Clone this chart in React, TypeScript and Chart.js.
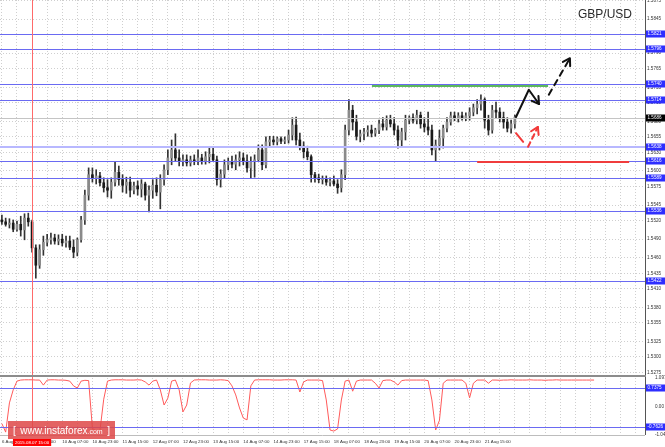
import React, { useEffect, useRef } from "react";
import { Chart, registerables } from "chart.js";

Chart.register(...registerables);

// ---------- data ----------
const TIME_LABELS = [
  "6 Aug 2015", "7 Aug 15:00", "10 Aug 07:00", "10 Aug 23:00", "11 Aug 15:00",
  "12 Aug 07:00", "12 Aug 23:00", "13 Aug 15:00", "14 Aug 07:00", "14 Aug 23:00",
  "17 Aug 15:00", "18 Aug 07:00", "18 Aug 23:00", "19 Aug 15:00", "20 Aug 07:00",
  "20 Aug 23:00", "21 Aug 15:00",
];
const BARS_PER_LABEL = 8;
const SLOT_COUNT = 171;

const OPEN = [
  1.5521, 1.5518, 1.5514, 1.5516, 1.5506, 1.5514, 1.5505, 1.5524, 1.5518, 1.5476,
  1.5448, 1.5473, 1.5485, 1.5489, 1.5492, 1.5487, 1.5490, 1.5484, 1.5487, 1.5477,
  1.5469, 1.5489, 1.5521, 1.5561, 1.5594, 1.5589, 1.5592, 1.5581, 1.5573, 1.5569,
  1.5582, 1.5598, 1.5586, 1.5577, 1.5582, 1.5569, 1.5576, 1.5571, 1.5579, 1.5561,
  1.5569, 1.5577, 1.5566, 1.5586, 1.5602, 1.5621, 1.5634, 1.5621, 1.5615, 1.5618,
  1.5613, 1.5618, 1.5615, 1.5621, 1.5616, 1.5623, 1.5627, 1.5618, 1.5586, 1.5595,
  1.5610, 1.5615, 1.5611, 1.5618, 1.5621, 1.5616, 1.5605, 1.5615, 1.5618, 1.5634,
  1.5610, 1.5647, 1.5650, 1.5647, 1.5652, 1.5648, 1.5650, 1.5658, 1.5674, 1.5650,
  1.5640, 1.5631, 1.5623, 1.5594, 1.5589, 1.5586, 1.5587, 1.5582, 1.5584, 1.5579,
  1.5573, 1.5594, 1.5666, 1.5698, 1.5679, 1.5656, 1.5660, 1.5663, 1.5666, 1.5661,
  1.5666, 1.5676, 1.5671, 1.5682, 1.5676, 1.5666, 1.5650, 1.5663, 1.5682, 1.5686,
  1.5682, 1.5690, 1.5676, 1.5671, 1.5666, 1.5634, 1.5642, 1.5653, 1.5669, 1.5679,
  1.5689, 1.5686, 1.5689, 1.5686, 1.5689, 1.5695, 1.5702, 1.5708, 1.5715, 1.5682,
  1.5666, 1.5698, 1.5695, 1.5686, 1.5679, 1.5669, 1.5676,
];
const HIGH = [
  1.5529, 1.5524, 1.5523, 1.5521, 1.5519, 1.5527, 1.5531, 1.5532, 1.5521, 1.5481,
  1.5481, 1.5495, 1.5498, 1.5500, 1.5498, 1.5497, 1.5498, 1.5495, 1.5495, 1.5489,
  1.5492, 1.5527, 1.5569, 1.5605, 1.5605, 1.5602, 1.5598, 1.5589, 1.5586, 1.5589,
  1.5615, 1.5608, 1.5594, 1.5590, 1.5590, 1.5582, 1.5584, 1.5586, 1.5582, 1.5576,
  1.5586, 1.5589, 1.5594, 1.5610, 1.5634, 1.5650, 1.5660, 1.5634, 1.5626, 1.5626,
  1.5624, 1.5626, 1.5634, 1.5627, 1.5631, 1.5637, 1.5637, 1.5624, 1.5602, 1.5618,
  1.5621, 1.5624, 1.5626, 1.5631, 1.5629, 1.5626, 1.5623, 1.5626, 1.5642, 1.5642,
  1.5655, 1.5656, 1.5656, 1.5655, 1.5655, 1.5655, 1.5666, 1.5686, 1.5687, 1.5661,
  1.5647, 1.5640, 1.5626, 1.5598, 1.5595, 1.5592, 1.5592, 1.5589, 1.5592, 1.5586,
  1.5602, 1.5674, 1.5715, 1.5706, 1.5690, 1.5666, 1.5669, 1.5673, 1.5674, 1.5669,
  1.5682, 1.5686, 1.5689, 1.5690, 1.5686, 1.5673, 1.5669, 1.5690, 1.5689, 1.5692,
  1.5698, 1.5695, 1.5686, 1.5695, 1.5674, 1.5650, 1.5666, 1.5674, 1.5686, 1.5695,
  1.5695, 1.5694, 1.5695, 1.5694, 1.5702, 1.5708, 1.5715, 1.5723, 1.5718, 1.5690,
  1.5706, 1.5711, 1.5702, 1.5695, 1.5686, 1.5682, 1.5690,
];
const LOW = [
  1.5514, 1.5511, 1.5508, 1.5502, 1.5503, 1.5495, 1.5489, 1.5511, 1.5469, 1.5427,
  1.5443, 1.5464, 1.5479, 1.5482, 1.5482, 1.5481, 1.5479, 1.5477, 1.5473, 1.5460,
  1.5463, 1.5485, 1.5514, 1.5553, 1.5582, 1.5579, 1.5576, 1.5566, 1.5558, 1.5556,
  1.5576, 1.5577, 1.5566, 1.5564, 1.5558, 1.5563, 1.5561, 1.5558, 1.5553, 1.5534,
  1.5556, 1.5560, 1.5539, 1.5577, 1.5594, 1.5610, 1.5615, 1.5608, 1.5608, 1.5608,
  1.5608, 1.5610, 1.5610, 1.5611, 1.5611, 1.5613, 1.5615, 1.5577, 1.5574, 1.5589,
  1.5602, 1.5605, 1.5602, 1.5608, 1.5610, 1.5598, 1.5589, 1.5590, 1.5615, 1.5602,
  1.5605, 1.5639, 1.5642, 1.5642, 1.5644, 1.5644, 1.5645, 1.5650, 1.5642, 1.5634,
  1.5621, 1.5618, 1.5582, 1.5582, 1.5581, 1.5579, 1.5577, 1.5576, 1.5576, 1.5564,
  1.5566, 1.5586, 1.5658, 1.5666, 1.5650, 1.5647, 1.5650, 1.5656, 1.5655, 1.5656,
  1.5660, 1.5666, 1.5666, 1.5671, 1.5658, 1.5637, 1.5639, 1.5650, 1.5676, 1.5677,
  1.5676, 1.5669, 1.5663, 1.5658, 1.5626, 1.5615, 1.5634, 1.5637, 1.5663, 1.5674,
  1.5681, 1.5679, 1.5682, 1.5681, 1.5682, 1.5689, 1.5692, 1.5698, 1.5669, 1.5658,
  1.5661, 1.5686, 1.5679, 1.5669, 1.5663, 1.5661, 1.5669,
];
const CLOSE = [
  1.5518, 1.5514, 1.5516, 1.5506, 1.5514, 1.5505, 1.5524, 1.5518, 1.5476, 1.5448,
  1.5473, 1.5485, 1.5489, 1.5492, 1.5487, 1.5490, 1.5484, 1.5487, 1.5477, 1.5469,
  1.5489, 1.5521, 1.5561, 1.5594, 1.5589, 1.5592, 1.5581, 1.5573, 1.5569, 1.5582,
  1.5598, 1.5586, 1.5577, 1.5582, 1.5569, 1.5576, 1.5571, 1.5579, 1.5561, 1.5569,
  1.5577, 1.5566, 1.5586, 1.5602, 1.5621, 1.5634, 1.5621, 1.5615, 1.5618, 1.5613,
  1.5618, 1.5615, 1.5621, 1.5616, 1.5623, 1.5627, 1.5618, 1.5586, 1.5595, 1.5610,
  1.5615, 1.5611, 1.5618, 1.5621, 1.5616, 1.5605, 1.5615, 1.5618, 1.5634, 1.5610,
  1.5647, 1.5650, 1.5647, 1.5652, 1.5648, 1.5650, 1.5658, 1.5674, 1.5650, 1.5640,
  1.5631, 1.5623, 1.5594, 1.5589, 1.5586, 1.5587, 1.5582, 1.5584, 1.5579, 1.5573,
  1.5594, 1.5666, 1.5698, 1.5679, 1.5656, 1.5660, 1.5663, 1.5666, 1.5661, 1.5666,
  1.5676, 1.5671, 1.5682, 1.5676, 1.5666, 1.5650, 1.5663, 1.5682, 1.5686, 1.5682,
  1.5690, 1.5676, 1.5671, 1.5666, 1.5634, 1.5642, 1.5653, 1.5669, 1.5679, 1.5689,
  1.5686, 1.5689, 1.5686, 1.5689, 1.5695, 1.5702, 1.5708, 1.5715, 1.5682, 1.5666,
  1.5698, 1.5695, 1.5686, 1.5679, 1.5669, 1.5676, 1.5687,
];

const INDICATOR = [
  -0.62, -0.94, 0.16, 0.65, 0.98, 1.02, 1.03, 1.03, 1.03, 1.02,
  1.02, 0.83, 1.02, 1.03, 1.03, 1.02, 1.02, 1.01, 0.98, 0.80,
  0.72, 0.98, 1.01, 1.0, -0.80, -0.90, -0.88, 0.30, 0.98, 1.02,
  1.03, 1.03, 1.03, 1.02, 1.02, 1.02, 1.03, 1.02, 0.95, 0.83,
  0.98, 1.02, 0.65, 0.08, 0.34, 0.98, 1.02, 0.65, -0.18, 0.08,
  0.91, 1.02, 1.03, 1.03, 1.03, 1.02, 1.02, 1.02, 1.03, 1.02,
  1.00, 0.80, 0.46, -0.03, -0.41, -0.48, 0.80, 1.02, 1.03, 1.03,
  1.03, 1.03, 1.02, 1.02, 1.02, 1.03, 1.03, 1.03, 1.02, 0.57,
  0.95, 1.02, 1.02, 1.02, 1.02, 1.00, 0.27, -0.86, -0.90, -0.82,
  0.27, 0.98, 1.02, 0.60, 0.98, 1.02, 1.02, 1.02, 1.02, 0.90,
  0.72, 1.00, 1.02, 1.02, 0.95, 0.83, 1.00, 1.02, 1.02, 1.02,
  1.02, 1.02, 1.02, 1.00, 0.27, -0.86, -0.50, 0.90, 1.02, 1.02,
  1.02, 1.02, 1.02, 0.90, 0.35, 0.90, 1.02, 1.02, 1.02, 0.90,
  1.02, 1.02, 1.01, 1.02, 1.02, 1.03, 1.02, 1.02, 1.02, 1.02,
  1.03, 1.02, 1.02, 1.02, 1.01, 1.02, 1.02, 1.03, 1.02, 1.02,
  1.02, 1.02, 1.02, 1.02, 1.02, 1.02, 1.02, 1.02,
];

const PRICE_TICKS = [
  1.5875, 1.5845, 1.5820, 1.5790, 1.5765, 1.5735, 1.5710, 1.5680, 1.5655, 1.5630,
  1.5600, 1.5575, 1.5545, 1.5520, 1.5490, 1.5460, 1.5435, 1.5410, 1.5380, 1.5355,
  1.5325, 1.5300, 1.5275,
];
const PRICE_MAX = 1.58758;
const PRICE_MIN = 1.52677;
const LEVELS = [1.5821, 1.5796, 1.5740, 1.5714, 1.5616, 1.5589, 1.5536, 1.5422];
const SOFT_LEVEL = 1.5638;
const LAST_PRICE = 1.5686;
const GREEN_SEGMENT = [[98.1, 1.5739], [144.8, 1.5739]];
const RED_SEGMENT = [[126.0, 1.5616], [166.3, 1.5616]];
const BLACK_SOLID_ARROW = [[136.3, 1.5687], [139.7, 1.5731], [142.4, 1.5708]];
const BLACK_DASHED_ARROW = [[145.0, 1.5723], [150.6, 1.5782]];
const RED_DASH_STROKE = [[136.3, 1.5661], [138.2, 1.5647]];
const RED_DASHED_ARROW = [[139.5, 1.5639], [142.1, 1.5671]];

const IND_TICKS = [1.0976, 0, -1.0486];
const IND_LEVELS = [0.7375, -0.7626];
const VLINE_INDEX = 8;
const VLINE_LABEL = "2015.08.07 15:00";

// ---------- styles ----------
const FONT = "'Liberation Sans', Arial, sans-serif";
const GRID = "#cfcfcf";
const LEVEL_BLUE = "#6a6af2";
const LABEL_BLUE = "#2e2eff";
const BULL = "#8a8a8a";
const BEAR = "#1a1a1a";
const WICK = "#333333";
const AXIS_W = 20;

const slots = Array.from({ length: SLOT_COUNT }, (_, i) => String(i));

function labelBox(ctx: any, area: any, y: number, text: string, bg: string) {
  const x0 = area.right + 1;
  ctx.fillStyle = bg;
  ctx.fillRect(x0, Math.round(y) - 3.5, 665 - x0, 7);
  ctx.fillStyle = "#ffffff";
  ctx.font = `4.6px ${FONT}`;
  ctx.textAlign = "left";
  ctx.textBaseline = "middle";
  ctx.fillText(text, x0 + 1.5, Math.round(y));
}

function drawPath(ctx: any, x: any, y: any, pts: number[][], color: string, dash: number[], head: boolean) {
  const p = pts.map(([i, v]) => [x.getPixelForValue(i), y.getPixelForValue(v)]);
  ctx.save();
  ctx.strokeStyle = color;
  ctx.lineWidth = 2;
  ctx.lineCap = "round";
  ctx.lineJoin = "round";
  ctx.setLineDash(dash);
  ctx.beginPath();
  p.forEach(([px, py], k) => (k ? ctx.lineTo(px, py) : ctx.moveTo(px, py)));
  ctx.stroke();
  if (head) {
    const [x1, y1] = p[p.length - 2];
    const [x2, y2] = p[p.length - 1];
    const a = Math.atan2(y2 - y1, x2 - x1);
    const L = 8;
    ctx.setLineDash([]);
    ctx.beginPath();
    ctx.moveTo(x2 - L * Math.cos(a - 0.55), y2 - L * Math.sin(a - 0.55));
    ctx.lineTo(x2, y2);
    ctx.lineTo(x2 - L * Math.cos(a + 0.55), y2 - L * Math.sin(a + 0.55));
    ctx.stroke();
  }
  ctx.restore();
}

const noPadY = (s: any) => { s.width = AXIS_W; s.paddingTop = 0; s.paddingBottom = 0; };

const mainOverlay = {
  id: "mainOverlay",
  afterDatasetsDraw(chart: any) {
    const { ctx, chartArea: a, scales } = chart;
    const x = scales.x;
    const y = scales.y;
    ctx.save();
    ctx.strokeStyle = "#c4c4c4";
    ctx.lineWidth = 1;
    let py = Math.round(y.getPixelForValue(LAST_PRICE)) + 0.5;
    ctx.beginPath(); ctx.moveTo(a.left, py); ctx.lineTo(a.right, py); ctx.stroke();
    ctx.strokeStyle = "#b8b8ff";
    ctx.lineWidth = 2;
    py = Math.round(y.getPixelForValue(SOFT_LEVEL));
    ctx.beginPath(); ctx.moveTo(a.left, py); ctx.lineTo(a.right, py); ctx.stroke();
    ctx.strokeStyle = LEVEL_BLUE;
    ctx.lineWidth = 1;
    LEVELS.forEach((v) => {
      const yy = Math.round(y.getPixelForValue(v)) + 0.5;
      ctx.beginPath(); ctx.moveTo(a.left, yy); ctx.lineTo(a.right, yy); ctx.stroke();
    });
    ctx.strokeStyle = "#5cb85c";
    ctx.lineWidth = 2;
    ctx.beginPath();
    ctx.moveTo(x.getPixelForValue(GREEN_SEGMENT[0][0]), Math.round(y.getPixelForValue(GREEN_SEGMENT[0][1])) + 1);
    ctx.lineTo(x.getPixelForValue(GREEN_SEGMENT[1][0]), Math.round(y.getPixelForValue(GREEN_SEGMENT[1][1])) + 1);
    ctx.stroke();
    ctx.strokeStyle = "#f03c3c";
    ctx.beginPath();
    ctx.moveTo(x.getPixelForValue(RED_SEGMENT[0][0]), Math.round(y.getPixelForValue(RED_SEGMENT[0][1])) + 1);
    ctx.lineTo(x.getPixelForValue(RED_SEGMENT[1][0]), Math.round(y.getPixelForValue(RED_SEGMENT[1][1])) + 1);
    ctx.stroke();
    const vx = Math.round(x.getPixelForValue(VLINE_INDEX)) + 0.5;
    ctx.strokeStyle = "#ff6a6a";
    ctx.lineWidth = 1;
    ctx.beginPath(); ctx.moveTo(vx, a.top); ctx.lineTo(vx, a.bottom); ctx.stroke();
    ctx.restore();
    drawPath(ctx, x, y, BLACK_SOLID_ARROW, "#111111", [], true);
    drawPath(ctx, x, y, BLACK_DASHED_ARROW, "#111111", [6, 5], true);
    drawPath(ctx, x, y, RED_DASH_STROKE, "#f23a3a", [], false);
    drawPath(ctx, x, y, RED_DASHED_ARROW, "#f23a3a", [5, 4], true);
  },
  afterDraw(chart: any) {
    const { ctx, chartArea: a, scales } = chart;
    const y = scales.y;
    ctx.save();
    ctx.strokeStyle = "#555555";
    ctx.lineWidth = 1;
    ctx.beginPath(); ctx.moveTo(a.right + 0.5, a.top); ctx.lineTo(a.right + 0.5, a.bottom); ctx.stroke();
    ctx.fillStyle = "#8c8c8c";
    ctx.fillRect(a.left, a.bottom - 2, a.right - a.left + 1, 2);
    LEVELS.forEach((v) => labelBox(ctx, a, y.getPixelForValue(v), v.toFixed(4), LABEL_BLUE));
    labelBox(ctx, a, y.getPixelForValue(SOFT_LEVEL), SOFT_LEVEL.toFixed(4), LABEL_BLUE);
    labelBox(ctx, a, y.getPixelForValue(LAST_PRICE), LAST_PRICE.toFixed(4), "#000000");
    ctx.restore();
  },
};

const indOverlay = {
  id: "indOverlay",
  afterDatasetsDraw(chart: any) {
    const { ctx, chartArea: a, scales } = chart;
    const x = scales.x;
    const y = scales.y;
    ctx.save();
    ctx.strokeStyle = LEVEL_BLUE;
    ctx.lineWidth = 1;
    IND_LEVELS.forEach((v) => {
      const yy = Math.round(y.getPixelForValue(v)) + 0.5;
      ctx.beginPath(); ctx.moveTo(a.left, yy); ctx.lineTo(a.right, yy); ctx.stroke();
    });
    const vx = Math.round(x.getPixelForValue(VLINE_INDEX)) + 0.5;
    ctx.strokeStyle = "#ff6a6a";
    ctx.beginPath(); ctx.moveTo(vx, a.top - 1); ctx.lineTo(vx, a.bottom); ctx.stroke();
    ctx.restore();
  },
  afterDraw(chart: any) {
    const { ctx, chartArea: a, scales } = chart;
    const x = scales.x;
    const y = scales.y;
    ctx.save();
    ctx.strokeStyle = "#555555";
    ctx.lineWidth = 1;
    ctx.beginPath(); ctx.moveTo(a.right + 0.5, a.top - 1); ctx.lineTo(a.right + 0.5, a.bottom); ctx.stroke();
    ctx.strokeStyle = "#bdbdbd";
    ctx.beginPath(); ctx.moveTo(a.left, a.bottom + 0.5); ctx.lineTo(a.right, a.bottom + 0.5); ctx.stroke();
    IND_LEVELS.forEach((v) => labelBox(ctx, a, y.getPixelForValue(v), v.toFixed(4), LABEL_BLUE));
    const vx = x.getPixelForValue(VLINE_INDEX);
    ctx.font = `4.4px ${FONT}`;
    const w = ctx.measureText(VLINE_LABEL).width + 4;
    ctx.fillStyle = "#ff0000";
    ctx.fillRect(vx - w / 2, a.bottom + 4, w, 7);
    ctx.fillStyle = "#ffffff";
    ctx.textAlign = "center";
    ctx.textBaseline = "middle";
    ctx.fillText(VLINE_LABEL, vx, a.bottom + 7.5);
    ctx.restore();
  },
};

export default function App() {
  const mainRef = useRef<HTMLCanvasElement | null>(null);
  const indRef = useRef<HTMLCanvasElement | null>(null);

  useEffect(() => {
    const bodies = slots.map((_, i) => (i < OPEN.length ? [OPEN[i], CLOSE[i]] : null));
    const wicks = slots.map((_, i) => (i < LOW.length ? [LOW[i], HIGH[i]] : null));
    const indData = slots.map((_, i) => (i < INDICATOR.length ? INDICATOR[i] : null));

    const vGrid = (c: any) => (c.index % 4 === 0 ? GRID : "rgba(0,0,0,0)");

    const main = new Chart(mainRef.current as HTMLCanvasElement, {
      type: "bar",
      data: {
        labels: slots,
        datasets: [
          {
            data: bodies as any,
            barThickness: 2,
            minBarLength: 1,
            grouped: false,
            order: 0,
            backgroundColor: (c: any) => (CLOSE[c.dataIndex] >= OPEN[c.dataIndex] ? BULL : BEAR),
          },
          {
            data: wicks as any,
            barThickness: 1,
            grouped: false,
            order: 1,
            backgroundColor: WICK,
          },
        ],
      },
      options: {
        animation: false,
        responsive: false,
        maintainAspectRatio: false,
        events: [],
        layout: { padding: 0 },
        plugins: { legend: { display: false }, tooltip: { enabled: false } },
        scales: {
          x: {
            type: "category",
            offset: true,
            ticks: { display: false },
            grid: { offset: false, color: vGrid, drawTicks: false, lineWidth: 1 },
            border: { display: false, dash: [1, 2] },
            afterFit: (s: any) => { s.height = 0; s.paddingLeft = 0; s.paddingRight = 0; },
          },
          y: {
            position: "right",
            min: PRICE_MIN,
            max: PRICE_MAX,
            afterBuildTicks: (s: any) => { s.ticks = PRICE_TICKS.map((v) => ({ value: v })); },
            afterFit: noPadY,
            ticks: {
              font: { size: 4.6, family: FONT },
              color: "#333333",
              padding: 2,
              callback: (v: any) => Number(v).toFixed(4),
            },
            grid: { color: GRID, drawTicks: false },
            border: { display: false, dash: [1, 2] },
          },
        },
      },
      plugins: [mainOverlay],
    } as any);

    const ind = new Chart(indRef.current as HTMLCanvasElement, {
      type: "line",
      data: {
        labels: slots,
        datasets: [
          {
            data: indData as any,
            borderColor: "#ff5a5a",
            borderWidth: 1,
            pointRadius: 0,
            tension: 0,
            spanGaps: false,
          },
        ],
      },
      options: {
        animation: false,
        responsive: false,
        maintainAspectRatio: false,
        events: [],
        layout: { padding: { top: 6, left: 0, right: 0, bottom: 0 } },
        plugins: { legend: { display: false }, tooltip: { enabled: false } },
        scales: {
          x: {
            type: "category",
            offset: true,
            ticks: {
              autoSkip: false,
              maxRotation: 0,
              minRotation: 0,
              align: "start",
              padding: 4,
              font: { size: 4.4, family: FONT },
              color: "#333333",
              callback: (_v: any, i: number) =>
                i % BARS_PER_LABEL === 0 && i / BARS_PER_LABEL < TIME_LABELS.length
                  ? TIME_LABELS[i / BARS_PER_LABEL]
                  : "",
            },
            grid: { offset: false, color: vGrid, drawTicks: false },
            border: { display: false, dash: [1, 2] },
            afterFit: (s: any) => { s.height = 12; s.paddingLeft = 0; s.paddingRight = 0; },
          },
          y: {
            position: "right",
            min: -1.0486,
            max: 1.0976,
            afterBuildTicks: (s: any) => { s.ticks = IND_TICKS.map((v) => ({ value: v })); },
            afterFit: noPadY,
            ticks: {
              font: { size: 4.6, family: FONT },
              color: "#333333",
              padding: 2,
              callback: (v: any) => (Number(v) === 0 ? "0.00" : Number(v).toFixed(4)),
            },
            grid: { display: false },
            border: { display: false },
          },
        },
      },
      plugins: [indOverlay],
    } as any);

    return () => {
      main.destroy();
      ind.destroy();
    };
  }, []);

  return (
    <div
      style={{
        position: "fixed",
        left: 0,
        top: 0,
        width: 665,
        height: 447,
        background: "#ffffff",
        overflow: "hidden",
      }}
    >
      <canvas ref={mainRef} width={665} height={377} style={{ position: "absolute", left: 0, top: 0 }} />
      <canvas ref={indRef} width={665} height={75} style={{ position: "absolute", left: 0, top: 372 }} />
      <div
        style={{
          position: "absolute",
          left: 578,
          top: 7,
          font: `12px ${FONT}`,
          color: "#2a2a2a",
          whiteSpace: "nowrap",
        }}
      >
        GBP/USD
      </div>
      <div
        style={{
          position: "absolute",
          left: 8,
          top: 421,
          width: 107,
          height: 18,
          background: "rgba(222,72,72,0.85)",
          color: "#ffffff",
          display: "flex",
          alignItems: "center",
          justifyContent: "space-between",
          padding: "0 5px",
          boxSizing: "border-box",
          font: `10px ${FONT}`,
          whiteSpace: "nowrap",
        }}
      >
        <span>[</span>
        <span>
          www.instaforex<span style={{ fontSize: 7 }}>.com</span>
        </span>
        <span>]</span>
      </div>
    </div>
  );
}
